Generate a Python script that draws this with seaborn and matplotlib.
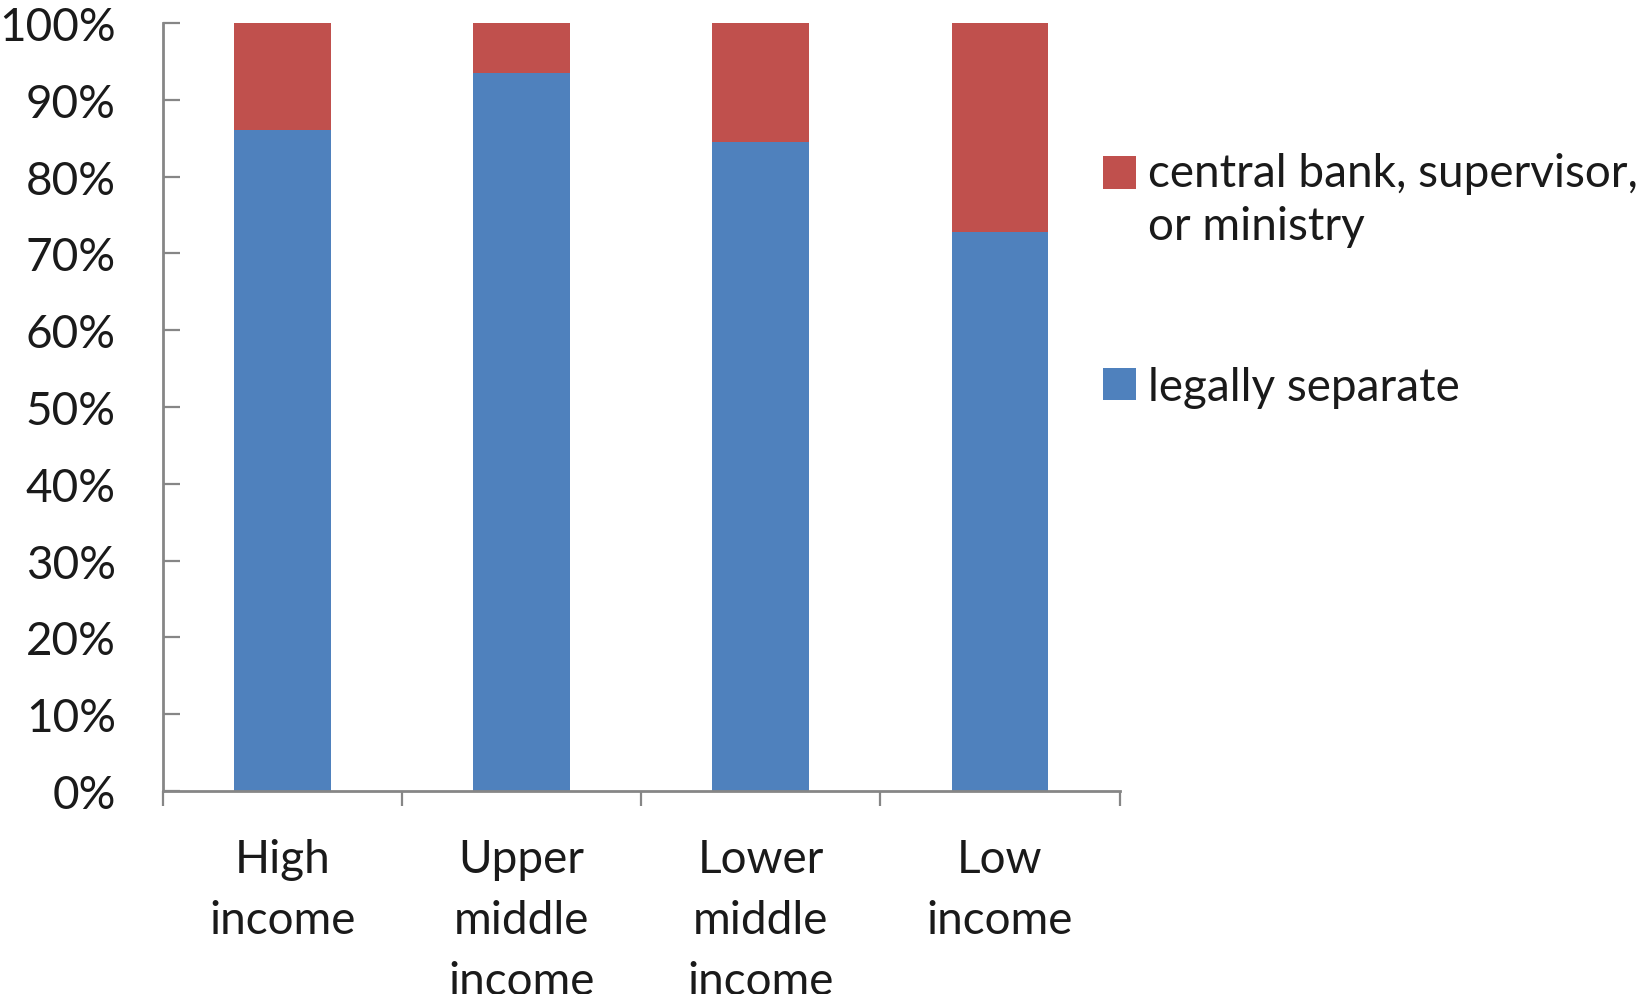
import matplotlib
matplotlib.use("Agg")
import matplotlib.pyplot as plt
from matplotlib.patches import Patch, Rectangle
from matplotlib.legend_handler import HandlerPatch
from matplotlib.ticker import FixedLocator, PercentFormatter
import seaborn as sns
import pandas as pd

# Data
categories = ["High\nincome", "Upper\nmiddle\nincome", "Lower\nmiddle\nincome", "Low\nincome"]
legally_separate = [86.0, 93.5, 84.5, 72.8]
central_bank = [14.0, 6.5, 15.5, 27.2]
series_names = ["legally separate", "central bank, supervisor,\nor ministry"]
y_ticks = [0, 10, 20, 30, 40, 50, 60, 70, 80, 90, 100]

BLUE = "#4F81BD"
RED = "#C0504D"
AXIS_GRAY = "#868686"
LEGEND_FS = 33

sns.set_style("white")
plt.rcParams["font.family"] = ["Lato", "DejaVu Sans"]

df = pd.DataFrame({
    "category": categories,
    "legally": legally_separate,
    "central": central_bank,
})

fig = plt.figure(figsize=(16.52, 9.95), dpi=100)
ax = fig.add_axes([0.0987, 0.204, 0.579, 0.772])

sns.barplot(data=df, x="category", y="legally", color=BLUE, width=0.405,
            saturation=1, edgecolor="none", ax=ax)
sns.barplot(data=df, x="category", y="central", bottom=df["legally"], color=RED,
            width=0.405, saturation=1, edgecolor="none", ax=ax)

ax.set_xlim(-0.5, len(categories) - 0.5)
ax.set_ylim(0, 100)
ax.set_xlabel("")
ax.set_ylabel("")

# y axis
ax.yaxis.set_major_locator(FixedLocator(y_ticks))
ax.yaxis.set_major_formatter(PercentFormatter(decimals=0))
ax.tick_params(axis="y", direction="in", length=12, width=1.6, color=AXIS_GRAY,
               pad=34, labelsize=33, labelcolor="#1a1a1a", left=True)

# x axis: labels at bar centres, ticks at category boundaries
ax.set_xticks(range(len(categories)))
ax.set_xticklabels(categories, linespacing=1.55)
ax.set_xticks([i - 0.5 for i in range(len(categories) + 1)], minor=True)
ax.tick_params(axis="x", which="major", length=0, pad=34, labelsize=33,
               labelcolor="#1a1a1a")
ax.tick_params(axis="x", which="minor", direction="out", length=11, width=1.6,
               color=AXIS_GRAY, bottom=True)
for lbl in ax.get_xticklabels():
    lbl.set_verticalalignment("top")

sns.despine(ax=ax)
for side in ["left", "bottom"]:
    ax.spines[side].set_color(AXIS_GRAY)
    ax.spines[side].set_linewidth(2.0)


# legend: the swatch of the two-line entry sits beside its first line
def top_aligned_patch(legend, orig_handle, xdescent, ydescent, width, height, fontsize):
    return Rectangle((-xdescent, -ydescent + 0.6 * fontsize), width, height)


handles = [Patch(facecolor=RED, edgecolor="none"), Patch(facecolor=BLUE, edgecolor="none")]
leg = ax.legend(handles, [series_names[1], series_names[0]], loc="upper left",
                bbox_to_anchor=(0.94, 0.886), frameon=False, fontsize=LEGEND_FS,
                handlelength=0.72, handleheight=0.72, handletextpad=0.25,
                labelspacing=2.6,
                handler_map={handles[0]: HandlerPatch(patch_func=top_aligned_patch)})
for t in leg.get_texts():
    t.set_linespacing(1.33)
    t.set_color("#1a1a1a")

fig.savefig("out.png", dpi=100)
